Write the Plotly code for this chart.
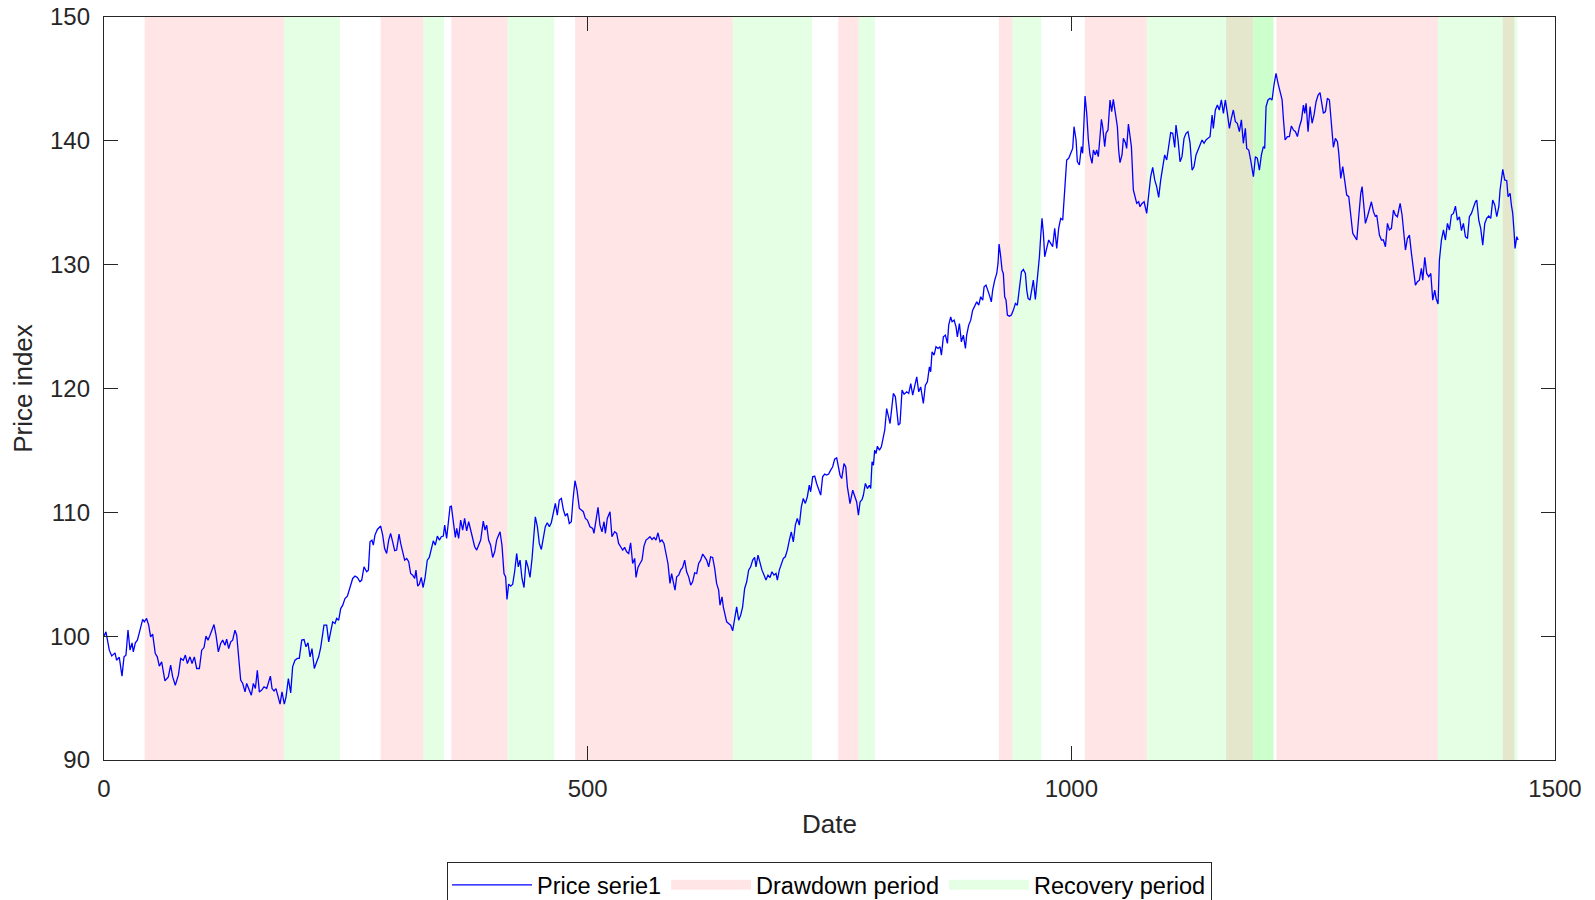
import plotly.graph_objects as go

# ---------------- data ----------------
seg1 = [(0, 100.0), (2, 100.35), (5.5, 98.87), (8, 98.4), (11.4, 98.65), (13, 98.06), (15.8, 98.3), (18.6, 96.77),
        (20.7, 98.33), (22.7, 98.47), (24.8, 100.5), (26.9, 98.87), (29, 99.46), (30.3, 98.73), (32.4, 99.46),
        (34.5, 99.68), (37.2, 100.49), (40, 101.35), (41.7, 101.16), (44, 101.43), (46.2, 100.89), (48.2, 99.95),
        (50.3, 100.16), (53, 98.6), (55.1, 98.33), (57.2, 97.58), (59.6, 97.93), (63, 96.39), (66.5, 96.71),
        (68.9, 97.66), (71, 96.71), (73.7, 96.04), (76.9, 96.85), (79.3, 98.2), (82, 98.06), (84.1, 98.47),
        (86.2, 97.79), (88.9, 98.33), (91, 97.79), (93.4, 98.33), (95.8, 97.39), (98.6, 97.39), (101, 98.87),
        (103.4, 99.08), (105.4, 100.0), (107.5, 99.68), (109.6, 100.08), (111.3, 100.49), (113.7, 100.94),
        (115.8, 100.08), (118.2, 98.73), (120.6, 99.41), (122.7, 99.68), (125.1, 99.27), (126.8, 99.76),
        (128.9, 99.0), (131, 99.54), (133, 99.68), (135.4, 100.49), (137.2, 100.08), (139.9, 98.06), (141.3, 96.45),
        (143.4, 96.18), (145.8, 95.5), (147.5, 96.18), (149.9, 95.77), (152.3, 95.23), (154.4, 96.18), (156.5, 95.77),
        (158.5, 97.25), (160.6, 95.5), (163, 95.64), (165.4, 95.91), (168.2, 95.77), (169.9, 96.18), (172, 96.77),
        (173.7, 95.77), (175.8, 95.58), (177.8, 95.77), (179.9, 95.23), (182, 94.51), (184, 95.5), (186.4, 94.51),
        (188.2, 95.1), (190.6, 96.58), (193, 95.42), (195, 97.52), (197.4, 98.06), (199.9, 98.2), (201.9, 98.2),
        (204.4, 99.68), (206.8, 99.73), (208.8, 99.14), (210.9, 99.46), (213, 98.33), (215, 99.0), (217.4, 97.39),
        (219.9, 97.93), (221.9, 98.33), (224, 99.08), (226.1, 100.35), (227.4, 100.89), (230.2, 100.89),
        (232.3, 99.54), (234.3, 100.35), (236.4, 101.16), (238.8, 101.02), (240.5, 101.43), (242.6, 101.29),
        (244.7, 102.23), (246.8, 102.5), (249.1, 103.04), (251.6, 103.23)]

seg2 = [(257.1, 104.66), (259.5, 104.85), (261.9, 104.74), (264.6, 104.39), (266.4, 104.53), (268.8, 105.6),
        (271.5, 105.2), (273.3, 105.33), (275, 107.62), (277, 107.76), (278.4, 107.35), (280.1, 108.16),
        (282.6, 108.62), (286, 108.89), (288.1, 108.16), (290.1, 107.08), (292.2, 106.68), (294.3, 107.76),
        (296.3, 108.3), (298.4, 107.62), (300.5, 106.9), (302.5, 106.95), (305, 108.24), (306.7, 107.49),
        (308.7, 106.81), (310.8, 106.14), (312.9, 106.28), (315, 106.01), (317, 105.06), (319.1, 104.93),
        (321.2, 104.66), (322.5, 105.33), (324.3, 104.04), (326, 104.2), (328, 104.74), (329.8, 103.93),
        (331.8, 104.66), (334.2, 106.14), (336.3, 106.36), (338.4, 107.08), (340.4, 107.7), (342.5, 107.35),
        (344.6, 108.08), (346.7, 107.76), (348.7, 108.03), (350.8, 108.08), (352.2, 108.97), (354.2, 107.89),
        (356, 108.97), (357.7, 110.45), (359.1, 110.5), (361.1, 109.37), (363.2, 107.97), (364.6, 108.7),
        (366.6, 107.89), (368.7, 109.37), (370.8, 108.57), (372.8, 109.51), (374.9, 108.51), (377, 109.24),
        (379, 108.57), (381.1, 107.7), (383.2, 107.22), (385.3, 106.95), (387.3, 107.35), (389.4, 107.76),
        (392.1, 109.29), (393.9, 108.57), (395.6, 108.97), (397.6, 107.76), (399.7, 107.35), (401.8, 106.36),
        (403.9, 106.81), (405.9, 107.76), (408, 108.16), (409.4, 108.43), (411.4, 107.35), (413.5, 105.06),
        (415.2, 104.79), (416.6, 102.96), (418.3, 104.2), (420.4, 104.04), (422.5, 104.2), (424.5, 105.2),
        (426.6, 106.68), (428.3, 105.6), (430.1, 106.14), (432.1, 104.66), (434.2, 103.93), (436.3, 106.14),
        (438.3, 105.6), (440.4, 104.74), (442.5, 106.28), (443.8, 107.76), (445.9, 109.64), (448, 108.84),
        (450, 107.49), (452.1, 107.0), (454.2, 108.16), (456.2, 108.84), (458.3, 109.16), (460.4, 108.84),
        (462.4, 109.16), (464.5, 109.91), (466.6, 110.72), (468.6, 109.78), (470.7, 110.99), (472.8, 111.12),
        (474.8, 110.24), (476.9, 109.7), (479, 109.91), (481, 109.1), (483.1, 109.24), (484.8, 110.99),
        (486.9, 112.55), (489, 111.8), (491.4, 110.32), (493.5, 110.18), (495.5, 110.05), (497.6, 109.51),
        (499.7, 109.37)]

seg3 = [(502.4, 108.84), (505.2, 108.7), (506.5, 108.3), (508.6, 109.51), (510.7, 110.4), (512.7, 108.97),
        (514.8, 108.43), (516.9, 109.24), (518.3, 108.3), (520.3, 109.51), (523.1, 110.05), (525.1, 108.03),
        (527.9, 108.43), (530, 108.3), (532, 107.49), (534.1, 107.22), (536.2, 106.95), (538.2, 107.17),
        (540.3, 106.81), (542.4, 106.68), (544.4, 107.54), (546.5, 105.87), (548.6, 106.28), (550, 104.74),
        (552, 105.55), (554.1, 105.87), (556.2, 106.14), (558.2, 107.27), (560.3, 107.76), (562.4, 107.89),
        (564.4, 108.03), (566.5, 107.81), (568.6, 107.97), (570.6, 107.76), (572.7, 108.35), (574.8, 107.62),
        (576.8, 107.76), (578.9, 107.49), (581, 106.54), (583, 105.87), (585.1, 104.26), (586.8, 105.06),
        (588.5, 104.39), (590.3, 103.72), (592, 104.79), (594.1, 104.93), (596.1, 105.33), (598.2, 105.55),
        (600.3, 106.14), (602.3, 105.2), (604.4, 104.79), (606.5, 104.12), (608.5, 104.39), (610.6, 105.12),
        (612.7, 105.06), (614.7, 105.87), (616.8, 106.14), (618.9, 106.63), (620.9, 106.41), (623, 106.14),
        (625.1, 105.6), (627.1, 106.41), (629.2, 106.36), (631.3, 105.47), (633.3, 104.26), (635.4, 103.72),
        (636.8, 102.51), (638.9, 103.18), (640.2, 102.37), (641.6, 101.83), (643.7, 101.16), (645.7, 101.02),
        (647.8, 100.89), (649.9, 100.43), (651.9, 101.56), (654, 102.37), (656.1, 101.29), (658.2, 101.7),
        (660.2, 102.37), (662.3, 103.85), (664.4, 104.39), (666.4, 105.33), (668.5, 105.6), (670.6, 106.14),
        (672.6, 106.36), (674, 105.6), (676.1, 106.54), (678.1, 105.87), (680.2, 105.33), (682.3, 104.93),
        (684.3, 104.53), (686.4, 104.93), (688.5, 104.74), (690.5, 105.2), (692.6, 104.93), (694.7, 105.06),
        (696.1, 104.53), (698.1, 105.33), (700.2, 105.74), (702.3, 106.28), (704.3, 106.41), (706.4, 106.95),
        (708.5, 107.76), (710.5, 108.43), (712.6, 107.62), (714.7, 108.97), (716.7, 109.51), (718.8, 108.97),
        (720.9, 110.45), (722.9, 111.12), (725, 110.72), (727.1, 111.26), (729.1, 112.2), (730.5, 111.66),
        (732.6, 112.87), (734.7, 112.93), (736.7, 112.33), (738.8, 111.8), (740.9, 111.39), (742.9, 112.87),
        (745, 113.09), (747.1, 113.01), (749.1, 113.09), (751.2, 113.41), (753.3, 113.68), (755.3, 114.3),
        (757.4, 114.4)]

seg4 = [(760.9, 113.0), (762.6, 112.73), (765, 113.94), (766.8, 113.67), (768.5, 112.06), (771.2, 110.71),
        (774, 111.79), (776.4, 111.25), (778.1, 110.84), (779.9, 109.77), (781.6, 110.84), (783.6, 111.03),
        (785, 111.38), (787.1, 112.33), (789.2, 111.92), (791.2, 112.19), (792.6, 111.92), (794, 114.08),
        (795.4, 113.81), (796.7, 115.02), (798.1, 114.75), (799.5, 115.34), (801.6, 115.02), (803.6, 115.29),
        (805, 115.83), (807.1, 116.63), (809.1, 118.38), (810.9, 117.71), (812.6, 117.17), (814.3, 118.38),
        (816, 119.6), (818.1, 119.33), (819.5, 118.38), (821.2, 117.04), (822.9, 117.17), (825, 119.87),
        (827.1, 119.54), (829.8, 119.73), (831.9, 119.6), (834, 120.4), (836, 119.46), (838.1, 120.13),
        (840.2, 120.94), (842.2, 119.73), (844.3, 120.13), (847, 118.79), (849.1, 120.27), (851.2, 120.54),
        (853.3, 121.75), (854.6, 121.35), (856, 122.96), (858.1, 122.69), (860.1, 123.37), (862.2, 123.23),
        (864.3, 123.37), (865.7, 122.69), (867.7, 124.17), (869.8, 124.31), (871.9, 123.64), (873.2, 125.12),
        (875.3, 125.79), (876.7, 125.39), (878.8, 125.52), (880.8, 124.98), (882.2, 124.17), (884.3, 125.25),
        (886.3, 123.77), (888.4, 124.31), (890.5, 123.23), (891.8, 124.31), (893.9, 125.12), (896, 125.52),
        (898, 126.33), (900.1, 126.65), (902.2, 127.0), (904.3, 126.73), (906.3, 127.41), (908.4, 127.14),
        (909.8, 128.21), (911.8, 128.35), (913.9, 127.95), (915.3, 127.54), (917.3, 127.0), (918.7, 127.95),
        (920.8, 128.75), (922.9, 129.29), (924.2, 130.1), (925.3, 131.66), (927, 130.64), (928.4, 129.56),
        (929.7, 129.29), (931.1, 127.41), (932.5, 127.14), (933.9, 125.93), (936, 125.84), (938, 125.93),
        (940.1, 126.33), (942.2, 126.87), (944.2, 126.73), (946.3, 128.21), (948.4, 129.43), (950.4, 129.61),
        (952.5, 129.29), (953.9, 127.95), (955.3, 127.27)]

seg5 = [(957.3, 127.14), (960.7, 128.76), (962.8, 127.2), (964.9, 128.89), (967, 130.64), (968.3, 132.26),
        (969.7, 133.74), (971.1, 132.53), (972.5, 130.64), (974.5, 131.31), (976.6, 131.99), (978.7, 131.72),
        (980.7, 131.45), (982.8, 132.93), (984.9, 131.31), (986.9, 132.93), (989, 133.74), (991.1, 133.6),
        (993.1, 136.16), (995.2, 138.45), (997.3, 138.59), (999.3, 138.99), (1001.4, 139.39), (1002.8, 141.14),
        (1004.9, 140.07), (1006.2, 138.32), (1008.3, 138.05), (1010.4, 139.53), (1011.7, 138.99), (1014.2, 143.62),
        (1015.9, 142.22), (1017.6, 140.07), (1019.3, 138.86), (1021.4, 138.18), (1022.8, 139.26), (1024.8, 138.86),
        (1026.2, 139.26), (1027.9, 138.72), (1029.7, 140.34), (1031.1, 141.74), (1032.4, 141.14), (1034.5, 139.53),
        (1035.9, 140.61), (1037.9, 140.88), (1040, 143.3), (1041.7, 142.36), (1043.4, 143.35), (1045.5, 142.22),
        (1047.6, 141.14), (1048.9, 139.26), (1050.3, 138.24), (1052.4, 138.86), (1053.8, 140.2), (1055.9, 139.85),
        (1057.2, 139.39), (1059, 141.36), (1060.7, 140.34), (1062.1, 139.53), (1064.1, 136.03), (1066.2, 135.22),
        (1067.6, 134.95), (1069.6, 135.08), (1071, 134.68), (1073.1, 134.95), (1075.2, 135.08), (1077.9, 134.14),
        (1080, 135.76), (1082, 137.1), (1084.1, 137.86), (1086.2, 136.84), (1088.2, 136.3), (1090.3, 135.44),
        (1092.4, 136.84), (1094.5, 138.05), (1096.5, 138.86), (1098.6, 138.45), (1100.7, 139.8), (1102.7, 140.66),
        (1104.8, 140.61), (1106.9, 139.47), (1108.2, 141.28), (1110.3, 140.07), (1112.4, 138.32), (1114.4, 138.72),
        (1116.5, 140.2), (1118.6, 140.61), (1120.6, 140.74), (1122.7, 139.85), (1124.8, 137.64), (1126.8, 137.91),
        (1128.9, 138.86), (1131, 139.26), (1133, 139.53), (1135.1, 140.07), (1137.2, 139.8), (1139.2, 140.07),
        (1141.3, 140.2), (1143.4, 140.34), (1145.5, 142.09), (1146.8, 141.01), (1148.9, 142.49), (1151, 142.89),
        (1153, 142.49), (1155.1, 143.3), (1157.2, 142.22), (1159.2, 143.3), (1161.3, 142.22), (1163.4, 141.01),
        (1165.4, 141.82), (1167.5, 142.49), (1169.6, 141.55), (1171.6, 141.42), (1173.7, 140.74), (1175.8, 141.69),
        (1177.8, 139.8), (1179.9, 141.01), (1181.3, 139.39), (1183.4, 139.26), (1185.4, 138.45), (1188.2, 137.1),
        (1190.3, 138.72), (1192.3, 138.59), (1194.4, 137.64), (1196.5, 138.86), (1198.5, 139.53), (1199.9, 139.39),
        (1201.3, 142.76), (1203.3, 143.3), (1205.4, 143.43), (1207.5, 143.3), (1209.5, 144.51), (1211.6, 145.45),
        (1213.7, 144.64)]

seg6 = [(1215.8, 143.97), (1217.9, 143.3), (1219.2, 141.82), (1221, 140.07), (1223.4, 140.34), (1225.4, 140.34),
        (1227.5, 141.2), (1229.6, 140.88), (1231.7, 140.74), (1233.7, 140.34), (1235.8, 141.14), (1237.9, 141.68),
        (1239.9, 142.89), (1241.3, 142.22), (1242.7, 143.03), (1244.7, 140.74), (1246.8, 142.76), (1248.9, 141.42),
        (1250.9, 142.09), (1253, 143.16), (1255.1, 143.7), (1257.1, 143.89), (1259.2, 142.89), (1260.6, 142.22),
        (1262.7, 142.36), (1264.7, 143.43), (1266.8, 143.3), (1268.9, 141.55), (1270.9, 139.48), (1273, 140.2),
        (1275.1, 139.93), (1276.5, 138.99), (1278.5, 136.97), (1280.6, 137.91), (1282.7, 136.84), (1284.7, 135.62),
        (1286.8, 135.49), (1288.9, 134.14), (1290.9, 132.53), (1293, 132.26), (1295.1, 131.99), (1297.1, 133.87),
        (1299.2, 135.76), (1300.6, 136.3), (1302, 134.95), (1304, 133.33), (1306.1, 133.87), (1308.2, 134.55),
        (1310.2, 135.08), (1312.3, 134.28), (1314.4, 133.87), (1315.7, 134.01), (1317.1, 133.33), (1318.5, 132.39),
        (1320.6, 131.99), (1322.6, 131.99), (1324.7, 131.45), (1326.8, 133.33), (1328.8, 132.8), (1330.9, 132.93),
        (1333, 134.41), (1335, 134.01), (1337.1, 133.87), (1339.9, 134.95), (1341.9, 134.01), (1344, 132.39),
        (1345.4, 131.18), (1347.4, 132.12), (1349.5, 132.39), (1351.6, 130.91), (1353.6, 129.83), (1355.7, 128.35),
        (1357.8, 128.62), (1359.8, 128.75), (1361.9, 129.7), (1363.3, 128.75), (1365.4, 130.59), (1367.4, 129.29),
        (1369.5, 129.02), (1371.6, 129.29), (1373.6, 127.14), (1375.7, 127.95), (1377.1, 127.27), (1379.1, 126.82),
        (1380.5, 130.37), (1382.6, 131.99), (1384.7, 132.8), (1386.7, 131.99), (1388.8, 133.33), (1390.9, 132.8),
        (1392.9, 134.01), (1395, 134.14), (1397.1, 134.73), (1399.1, 133.6), (1401.2, 133.87), (1403.3, 132.75),
        (1405.3, 133.33), (1407.4, 132.26), (1409.5, 132.12), (1411.5, 133.87), (1413.6, 134.14), (1415.7, 134.68),
        (1417.7, 135.08), (1419.1, 135.22), (1421.2, 133.6), (1423.2, 132.93), (1425.3, 131.58), (1427.4, 133.33),
        (1429.4, 133.74), (1431.5, 133.93), (1433.6, 133.74), (1435.6, 135.22), (1437.7, 134.82), (1439.8, 133.87),
        (1441.9, 134.68), (1443.2, 136.03), (1444.6, 136.97), (1446, 137.7), (1448, 136.84), (1450.1, 136.78),
        (1451.5, 135.49), (1453.6, 135.76), (1454.9, 134.82), (1456.3, 134.14), (1457.7, 132.66), (1458.7, 131.31),
        (1460.5, 132.26), (1461.8, 131.99)]

# drawdown / recovery periods (start, end) in days
drawdown_start = [42, 286, 359, 487, 759, 925, 1014, 1160, 1212, 1446]
drawdown_end = [186, 330, 417, 650, 780, 939, 1078, 1188, 1379, 1458]
recovery_start = [186, 330, 417, 650, 780, 939, 1078, 1188, 1379, 1458]
recovery_end = [244, 351.5, 465.5, 732, 797, 969, 1209, 1209, 1458, 1461]

x_ticks = [0, 500, 1000, 1500]
y_ticks = [90, 100, 110, 120, 130, 140, 150]
y_range = [90, 150]

# ---------------- figure ----------------
series = seg1 + seg2 + seg3 + seg4 + seg5 + seg6
day = [d for d, _ in series]
price = [p for _, p in series]

DD_COLOR = "rgba(255,0,0,0.1)"
RC_COLOR = "rgba(0,255,0,0.1)"

fig = go.Figure()

def add_periods(starts, ends, name, color):
    for s, e in zip(starts, ends):
        fig.add_trace(go.Scatter(
            x=[s, e, e, s, s], y=[y_range[0], y_range[0], y_range[1], y_range[1], y_range[0]],
            fill="toself", fillcolor=color, mode="lines", line=dict(width=0),
            name=name, legendgroup=name, showlegend=False, hoverinfo="skip"))

add_periods(drawdown_start, drawdown_end, "Drawdown period", DD_COLOR)
add_periods(recovery_start, recovery_end, "Recovery period", RC_COLOR)

fig.add_trace(go.Scatter(x=day, y=price, mode="lines", name="Price serie1",
                         line=dict(color="rgb(0,0,255)", width=1.3), legendrank=1))

# legend swatches for the shaded periods (no data of their own)
for nm, col, rk in [("Drawdown period", DD_COLOR, 2), ("Recovery period", RC_COLOR, 3)]:
    fig.add_trace(go.Scatter(x=[None], y=[None], mode="lines", name=nm, legendgroup=nm,
                             line=dict(color=col, width=10), legendrank=rk, hoverinfo="skip"))

axis_common = dict(showline=True, linecolor="#262626", linewidth=1.3, mirror="ticks",
                   ticks="inside", ticklen=14, tickwidth=1.3, tickcolor="#262626",
                   showgrid=False, zeroline=False, ticklabeloverflow="allow", automargin=False,
                   tickfont=dict(size=24, color="#262626"))

fig.update_layout(
    width=1595, height=900,
    margin=dict(l=104, r=40, t=17, b=140),
    paper_bgcolor="white", plot_bgcolor="white",
    font=dict(family="Arial, Liberation Sans, sans-serif", color="#262626"),
    xaxis=dict(range=[0, 1500], tickvals=x_ticks, ticklabelstandoff=7,
               title=dict(text="Date", font=dict(size=26), standoff=13), **axis_common),
    yaxis=dict(range=y_range, tickvals=y_ticks, ticklabelstandoff=8,
               title=dict(text="Price index", font=dict(size=26), standoff=9), **axis_common),
    legend=dict(orientation="h", x=0.5, xanchor="center", xref="paper",
                y=0.0422, yanchor="top", yref="container",
                bordercolor="#262626", borderwidth=1, bgcolor="white",
                font=dict(size=23.5, color="#000000"), itemwidth=80),
    showlegend=True,
)

fig.write_html("out.html", config={"displayModeBar": False},
               post_script="document.body.style.margin='0';")
